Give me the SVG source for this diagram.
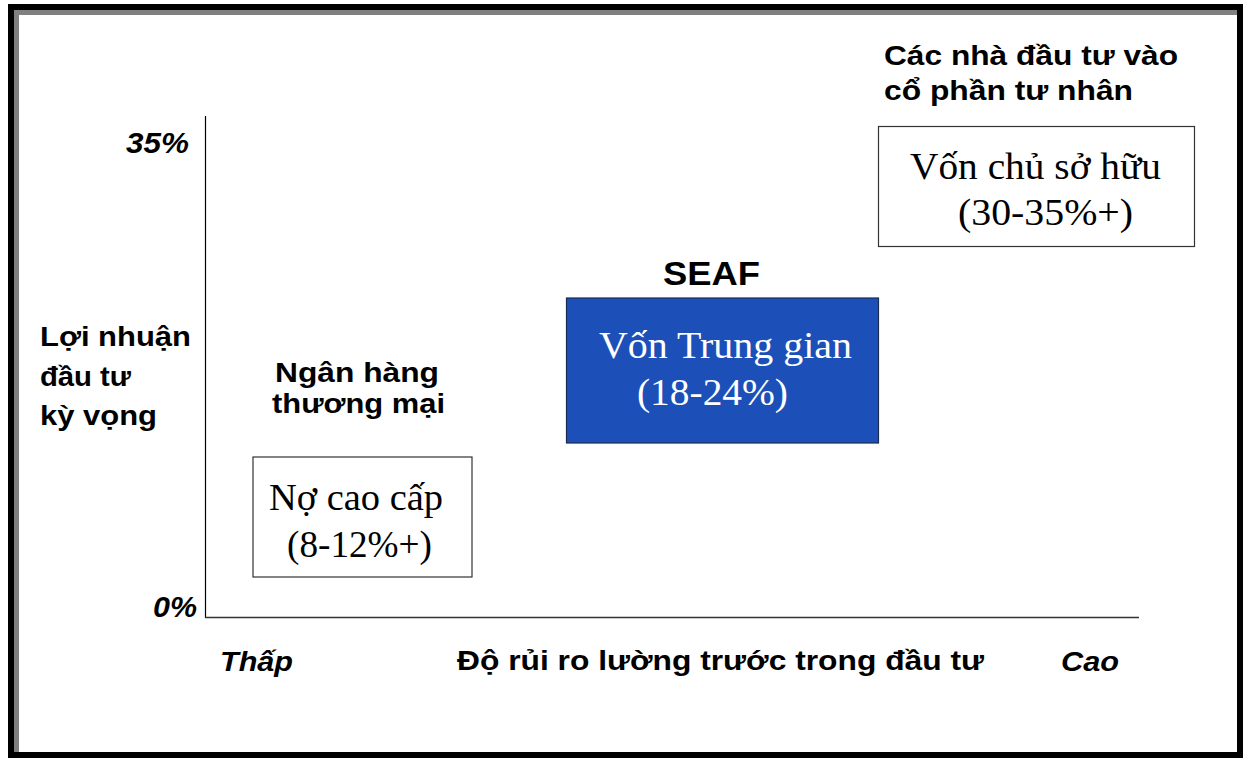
<svg xmlns="http://www.w3.org/2000/svg" width="1245" height="758" viewBox="0 0 1245 758">
<style>
.lbl{font-family:"Liberation Sans",Arial,sans-serif;font-weight:bold;fill:#000}
.it{font-style:italic}
.ser{font-family:"Liberation Serif","Times New Roman",serif;fill:#000}
.wt{fill:#fff}
.box{fill:#fff;stroke:#333;stroke-width:1.2}
</style>
<rect x="0" y="0" width="1245" height="758" fill="#fff"/>
<g id="frame">
<rect x="11" y="7" width="1229" height="748" fill="none" stroke="#000" stroke-width="6"/>
<line x1="16.5" y1="10" x2="16.5" y2="752" stroke="#808080" stroke-width="5"/>
<line x1="14" y1="12.5" x2="1237" y2="12.5" stroke="#808080" stroke-width="5"/>
</g>
<g id="connectors">
<line x1="205.5" y1="116" x2="205.5" y2="618" stroke="#000" stroke-width="1.2"/>
<line x1="205" y1="617.5" x2="1139" y2="617.5" stroke="#333" stroke-width="1.5"/>
</g>
<g id="axis-labels">
<text class="lbl it" x="126" y="153" font-size="29" textLength="63" lengthAdjust="spacingAndGlyphs">35%</text>
<text class="lbl it" x="153" y="617" font-size="29" textLength="44" lengthAdjust="spacingAndGlyphs">0%</text>
<text class="lbl" x="40" y="346" font-size="27" textLength="151" lengthAdjust="spacingAndGlyphs">Lợi nhuận</text>
<text class="lbl" x="40" y="386" font-size="27" textLength="91" lengthAdjust="spacingAndGlyphs">đầu tư</text>
<text class="lbl" x="40" y="425" font-size="27" textLength="117" lengthAdjust="spacingAndGlyphs">kỳ vọng</text>
<text class="lbl it" x="220" y="671" font-size="28" textLength="73" lengthAdjust="spacingAndGlyphs">Thấp</text>
<text class="lbl" x="457" y="670" font-size="28" textLength="527" lengthAdjust="spacingAndGlyphs">Độ rủi ro lường trước trong đầu tư</text>
<text class="lbl it" x="1061" y="671" font-size="28" textLength="58" lengthAdjust="spacingAndGlyphs">Cao</text>
</g>
<g id="senior-debt">
<text class="lbl" x="275" y="382" font-size="27" textLength="164" lengthAdjust="spacingAndGlyphs">Ngân hàng</text>
<text class="lbl" x="272" y="413" font-size="27" textLength="173" lengthAdjust="spacingAndGlyphs">thương mại</text>
<rect class="box" x="253" y="457" width="219" height="120"/>
<text class="ser" x="269" y="510" font-size="37" textLength="174" lengthAdjust="spacingAndGlyphs">Nợ cao cấp</text>
<text class="ser" x="287" y="557" font-size="37" textLength="145" lengthAdjust="spacingAndGlyphs">(8-12%+)</text>
</g>
<g id="mezzanine">
<text class="lbl" x="663" y="285" font-size="34" textLength="97" lengthAdjust="spacingAndGlyphs">SEAF</text>
<rect x="566.5" y="298" width="312" height="145" fill="#1C50B8" stroke="#1a2a50" stroke-width="1.2"/>
<text class="ser wt" x="599" y="358" font-size="38" textLength="253" lengthAdjust="spacingAndGlyphs">Vốn Trung gian</text>
<text class="ser wt" x="637" y="405" font-size="38" textLength="151" lengthAdjust="spacingAndGlyphs">(18-24%)</text>
</g>
<g id="equity">
<text class="lbl" x="884" y="65" font-size="28" textLength="294" lengthAdjust="spacingAndGlyphs">Các nhà đầu tư vào</text>
<text class="lbl" x="884" y="100" font-size="28" textLength="249" lengthAdjust="spacingAndGlyphs">cổ phần tư nhân</text>
<rect class="box" x="878.5" y="126.5" width="316" height="120"/>
<text class="ser" x="910" y="179" font-size="37" textLength="251" lengthAdjust="spacingAndGlyphs">Vốn chủ sở hữu</text>
<text class="ser" x="958" y="225" font-size="37" textLength="175" lengthAdjust="spacingAndGlyphs">(30-35%+)</text>
</g>
</svg>
